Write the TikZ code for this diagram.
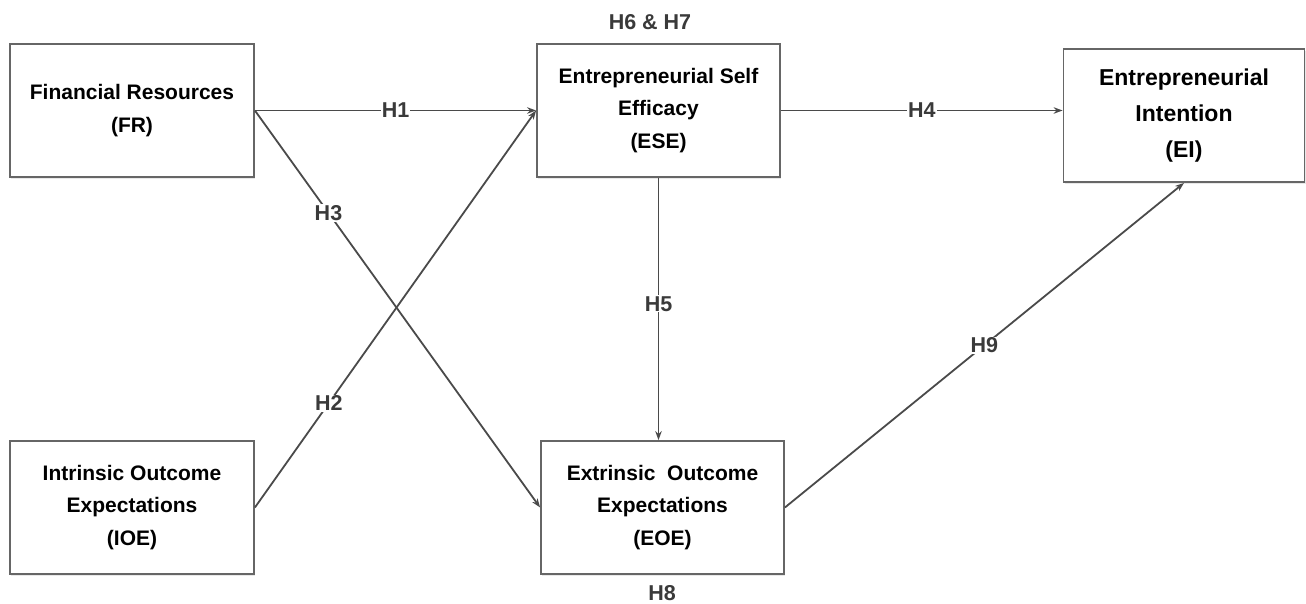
\documentclass[tikz,border=0pt]{standalone}
\usepackage{fontspec}
\setmainfont{Liberation Sans}
\usetikzlibrary{arrows.meta,shadows}
\definecolor{linegray}{HTML}{4A4A4A}
\definecolor{boxgray}{HTML}{666666}
\definecolor{labgray}{HTML}{3A3A3A}
\tikzset{
  box/.style={draw=boxgray, line width=1.8pt, fill=white, rectangle, align=center,
    font=\bfseries\fontsize{21}{32.5}\selectfont, text=black,
    drop shadow={opacity=0.18, shadow xshift=1pt, shadow yshift=-2pt}},
  bigbox/.style={box, font=\bfseries\fontsize{23}{36}\selectfont},
  conn/.style={draw=linegray, line width=1.8pt, -{Stealth[length=9pt,width=6.5pt]}},
  hlab/.style={font=\bfseries\fontsize{21.5}{24}\selectfont, text=labgray, fill=white, inner sep=1pt},
  toplab/.style={font=\bfseries\fontsize{21.5}{24}\selectfont, text=labgray}
}
\begin{document}
\begin{tikzpicture}[x=1pt,y=-1pt]
\useasboundingbox (0,0) rectangle (1306,604);
\node[box, minimum width=244pt, minimum height=133pt] (fr) at (132,110.5) {Financial Resources\\(FR)};
\node[box, minimum width=243pt, minimum height=133pt] (ese) at (658.5,110.5) {Entrepreneurial Self\\Efficacy\\(ESE)};
\node[bigbox, minimum width=241pt, minimum height=133pt] (ei) at (1184,115.5) {Entrepreneurial\\Intention\\(EI)};
\node[box, minimum width=244pt, minimum height=133pt] (ioe) at (132,507.5) {Intrinsic Outcome\\Expectations\\(IOE)};
\node[box, minimum width=243pt, minimum height=133pt] (eoe) at (662.5,507.5) {Extrinsic~ Outcome\\Expectations\\(EOE)};

\node[toplab] (h67) at (650,22) {H6 \& H7};
\node[toplab] (h8) at (662,593) {H8};

\draw[conn] (fr.east) -- node[hlab, pos=0.5] (h1) {H1} (ese.west);
\draw[conn] (fr.east) -- node[hlab, pos=0.258] (h3) {H3} (eoe.west);
\draw[conn] (ioe.east) -- node[hlab, pos=0.263] (h2) {H2} (ese.west);
\draw[conn] (ese.east) -- node[hlab, pos=0.5] (h4) {H4} (ese.east -| ei.west);
\draw[conn] (ese.south) -- node[hlab, pos=0.48] (h5) {H5} (eoe.north -| ese.south);
\draw[conn] (eoe.east) -- node[hlab, pos=0.5] (h9) {H9} (ei.south);
\end{tikzpicture}
\end{document}
